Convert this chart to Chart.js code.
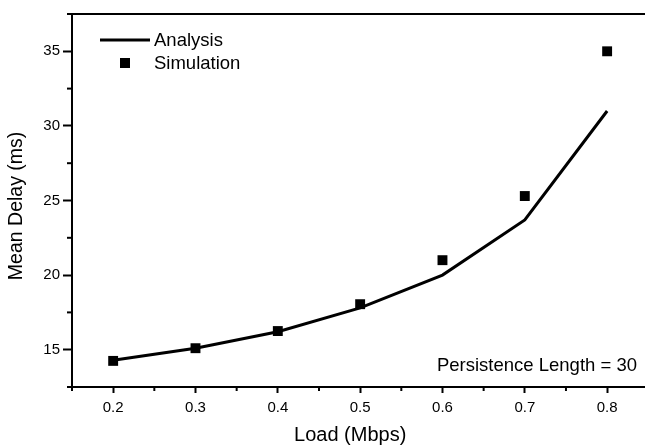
<!DOCTYPE html>
<html>
<head>
<meta charset="utf-8">
<script src="https://cdn.jsdelivr.net/npm/chart.js@4.4.1/dist/chart.umd.min.js"></script>
<style>
  html, body { margin: 0; padding: 0; background: #fff; overflow: hidden; }
  #wrap { width: 645px; height: 447px; position: relative; }
</style>
</head>
<body>
<div id="wrap"><canvas id="c"></canvas></div>
<script>
// valores
const loads = [0.2, 0.3, 0.4, 0.5, 0.6, 0.7, 0.8];
const analysis = [14.3, 15.1, 16.2, 17.8, 20.0, 23.7, 31.0];
const simulation = [14.25, 15.1, 16.25, 18.05, 21.0, 25.3, 35.0];

// marcas dos eixos
const xTicks = [0.2, 0.3, 0.4, 0.5, 0.6, 0.7, 0.8];
const xMinor = [0.15, 0.25, 0.35, 0.45, 0.55, 0.65, 0.75];
const yTicks = [15, 20, 25, 30, 35];
const yMinor = [12.5, 17.5, 22.5, 27.5, 32.5, 37.5];

const note = 'Persistence Length = 30';
const FONT = "'Liberation Sans', Arial, Helvetica, sans-serif";

function line(ctx, x1, y1, x2, y2) {
  ctx.beginPath(); ctx.moveTo(x1, y1); ctx.lineTo(x2, y2); ctx.stroke();
}

// moldura de cima, ticks menores, legenda e nota
const framePlugin = {
  id: 'frame',
  afterDraw(chart) {
    const ctx = chart.ctx, a = chart.chartArea;
    const sx = chart.scales.x, sy = chart.scales.y;
    ctx.save();
    ctx.strokeStyle = '#000';
    ctx.lineWidth = 2;
    line(ctx, a.left - 1, a.top, a.right, a.top);
    xMinor.forEach(v => { const px = sx.getPixelForValue(v); line(ctx, px, a.bottom, px, a.bottom + 4); });
    yMinor.forEach(v => { const py = sy.getPixelForValue(v); line(ctx, a.left - 5, py, a.left, py); });

    // legenda
    ctx.font = '18.5px ' + FONT;
    ctx.fillStyle = '#000';
    ctx.textBaseline = 'middle';
    ctx.textAlign = 'left';
    chart.data.datasets.forEach((ds, i) => {
      const yy = a.top + 26 + i * 23;
      const x0 = a.left + 28;
      if (ds.showLine) {
        ctx.lineWidth = ds.borderWidth;
        line(ctx, x0, yy, x0 + 50, yy);
      } else {
        ctx.fillRect(x0 + 20, yy - 5, 10, 10);
      }
      ctx.fillText(ds.label, x0 + 54, yy + 1);
    });

    ctx.textAlign = 'right';
    ctx.fillText(note, a.right - 8, a.bottom - 21);
    ctx.restore();
  }
};

new Chart(document.getElementById('c'), {
  type: 'scatter',
  data: {
    datasets: [
      { label: 'Analysis', data: loads.map((x, i) => ({ x, y: analysis[i] })), showLine: true,
        borderColor: '#000', borderWidth: 3, pointRadius: 0, pointHoverRadius: 0, tension: 0 },
      { label: 'Simulation', data: loads.map((x, i) => ({ x, y: simulation[i] })), showLine: false,
        pointStyle: 'rect', pointRadius: 7, pointHoverRadius: 7,
        backgroundColor: '#000', borderColor: '#000', borderWidth: 0 },
    ],
  },
  options: {
    responsive: true,
    maintainAspectRatio: false,
    animation: false,
    layout: { autoPadding: false, padding: { top: 14, right: 0, left: 0, bottom: 0 } },
    plugins: { legend: { display: false }, tooltip: { enabled: false } },
    scales: {
      x: {
        type: 'linear', min: 0.15, max: 0.846,
        afterBuildTicks: s => { s.ticks = xTicks.map(v => ({ value: v })); },
        afterFit: s => { s.height = 60; s.paddingRight = 0; s.paddingLeft = 0; },
        border: { display: true, color: '#000', width: 2 },
        grid: { drawOnChartArea: false, drawTicks: true, tickLength: 6, tickColor: '#000', tickWidth: 2 },
        ticks: { color: '#000', font: { family: FONT, size: 15 }, padding: 6, maxRotation: 0, autoSkip: false,
          callback: v => v.toFixed(1) },
        // espaços no fim deslocam o título como no original
        title: { display: true, text: 'Load (Mbps)   ', color: '#000', font: { family: FONT, size: 20 },
          padding: { top: 0, bottom: 0 } },
      },
      y: {
        type: 'linear', min: 12.5, max: 37.5,
        afterBuildTicks: s => { s.ticks = yTicks.map(v => ({ value: v })); },
        afterFit: s => { s.width = 72; },
        border: { display: true, color: '#000', width: 2 },
        grid: { drawOnChartArea: false, drawTicks: true, tickLength: 9, tickColor: '#000', tickWidth: 2 },
        ticks: { color: '#000', font: { family: FONT, size: 15 }, padding: 3, callback: v => String(v) },
        title: { display: true, text: 'Mean Delay (ms)  ', color: '#000', font: { family: FONT, size: 19.5 },
          padding: { top: 5, bottom: 0 } },
      },
    },
  },
  plugins: [framePlugin],
});
</script>
</body>
</html>
